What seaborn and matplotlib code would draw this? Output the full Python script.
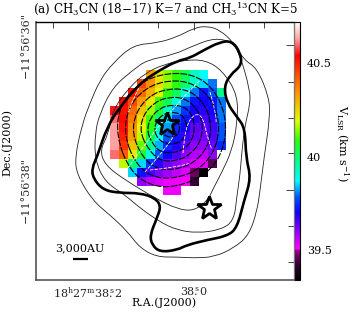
import matplotlib
import matplotlib.pyplot as plt
import numpy as np
import pandas as pd
import seaborn as sns
from matplotlib.colors import LinearSegmentedColormap
from matplotlib.patches import PathPatch
from matplotlib.path import Path

matplotlib.use("Agg")

# velocity map, km/s, one row per map row (top to bottom)
n = np.nan
vel_rows = [
    [n, n, n, n, 40.33, 40.22, 40.14, 40.08, 40.02, 39.93, 39.88, n, n],
    [n, n, n, 40.45, 40.35, 40.24, 40.15, 40.08, 40.0, 39.92, 39.85, 39.8, n],
    [n, n, 40.52, 40.4, 40.3, 40.2, 40.08, 40.02, 39.9, 39.8, 39.72, 39.78, 39.98],
    [n, 40.53, 40.45, 40.33, 40.22, 40.1, 40.02, 39.9, 39.8, 39.72, 39.7, 39.72, 39.8],
    [40.55, 40.52, 40.4, 40.28, 40.15, 40.05, 39.93, 39.82, 39.75, 39.7, 39.68, 39.7, 39.8],
    [40.6, 40.53, 40.38, 40.24, 40.1, 39.98, 39.85, 39.77, 39.72, 39.68, 39.66, 39.68, 39.8],
    [40.63, 40.52, 40.35, 40.2, 40.08, 39.92, 39.82, 39.74, 39.7, 39.64, 39.64, 39.66, 39.78],
    [40.63, 40.5, 40.33, 40.17, 40.03, 39.88, 39.78, 39.72, 39.67, 39.63, 39.62, 39.65, 39.78],
    [40.63, 40.47, 40.28, 40.12, 39.97, 39.83, 39.74, 39.69, 39.64, 39.6, 39.6, 39.63, 39.74],
    [40.6, 40.42, 40.22, 40.05, 39.9, 39.78, 39.7, 39.65, 39.6, 39.57, 39.56, 39.6, n],
    [n, 40.17, 40.0, 39.85, 39.75, 39.68, 39.63, 39.6, 39.57, 39.54, 39.53, 39.45, n],
    [n, n, 39.85, 39.72, 39.66, 39.62, 39.59, 39.56, 39.53, 39.46, 39.35, n, n],
    [n, n, n, 39.6, 39.56, 39.54, 39.52, 39.52, 39.51, 39.42, n, n, n],
    [n, n, n, n, n, n, 39.52, 39.52, n, n, n, n, n],
]
grid_x0, grid_y0, cell = 110, 70, 8.9

# colour bar stops
cbar_vals = [39.34, 39.43, 39.498, 39.505, 39.6, 39.7, 39.78, 39.87, 40.0, 40.09, 40.19, 40.35, 40.5, 40.54, 40.63, 40.72]
cbar_cols = ["#000000", "#3a003a", "#a0008c", "#ff00ff", "#9000ff", "#1000ff", "#0050ff", "#00ffff",
             "#00ff70", "#30ff00", "#e0ff00", "#ff9000", "#ff2000", "#ff0000", "#ffa0a0", "#ffffff"]

# contours in map coordinates
outer = [(75,157),(82,125),(90,103),(100,80),(113,63),(133,45),(157,43),(177,37),(194,28),(207,26),(220,30),(234,43),
         (244,60),(257,68),(269,97),(270,117),(264,158),(260,191),(257,211),(249,235),(234,248),(214,257),(194,258),
         (177,257),(157,257),(140,248),(127,231),(110,215),(93,201),(77,175)]
thick = [(97,157),(107,127),(120,107),(140,83),(160,70),(177,61),(190,58),(204,50),(220,42),(232,41),(240,52),(242,65),
         (230,75),(224,87),(227,103),(237,117),(245,128),(246,158),(251,178),(244,201),(237,228),(227,236),(207,240),
         (187,245),(177,250),(160,252),(152,245),(150,235),(157,218),(161,206),(155,198),(140,193),(120,193),(103,190),
         (93,178),(92,168)]
level2 = [(95,133),(100,113),(113,87),(133,70),(147,60),(173,55),(195,45),(215,38),(232,42),(240,55),(250,90),(250,105),
          (245,125),(242,150),(240,175),(237,195),(234,221),(220,230),(197,233),(177,230),(160,222),(140,208),(125,195),
          (105,182),(95,160)]
level3 = [(108,135),(113,110),(127,90),(145,73),(165,64),(185,60),(205,60),(222,70),(238,95),(237,125),(232,150),
          (222,172),(212,191),(208,200),(194,211),(177,209),(155,198),(125,180),(105,165),(100,150)]
ring_a = [(116,135),(120,105),(137,85),(160,74),(190,73),(213,87),(226,115),(225,145),(212,170),(185,185),(155,188),(130,172)]
ring_b = [(124,135),(128,108),(143,90),(163,81),(188,81),(208,94),(219,117),(218,143),(205,165),(183,177),(156,179),(136,165)]
ring_c = [(132,133),(136,112),(149,96),(166,89),(186,89),(202,100),(211,120),(210,142),(198,160),(180,169),(158,170),(142,157)]
ring_d = [(140,132),(143,115),(155,102),(169,97),(184,98),(196,107),(203,123),(201,141),(191,154),(177,161),(160,161),(148,149)]
ring_e = [(147,131),(150,118),(160,108),(171,105),(183,106),(192,114),(195,127),(192,141),(183,150),(172,153),(160,152),(152,143)]
ring_f = [(154,130),(157,120),(164,114),(172,112),(181,114),(186,121),(187,130),(184,139),(176,144),(166,144),(158,139)]
ring_g = [(160,130),(164,121),(172,119),(179,122),(180,131),(175,137),(166,137)]
rings = [ring_a, ring_b, ring_c, ring_d, ring_e, ring_f, ring_g]

# velocity contours, white
white_1 = [(125,172),(150,137),(172,110),(192,88),(208,72)]
white_2 = [(145,172),(168,146),(180,125)]
white_3 = [(183,153),(185,127),(195,113),(203,117),(208,140),(215,157)]
white_4 = [(150,170),(180,167),(197,160)]
white_5 = [(143,80),(132,100),(125,125)]
white_6 = [(210,92),(217,115),(215,130)]
whites = [white_1, white_2, white_3, white_4, white_5, white_6]

star_x = [167, 209]
star_y = [124, 208]

y_major = [45, 190]
y_minor = [82, 118, 153, 226, 262]
y_labels = ["\u221211\u00b056'36\"", "\u221211\u00b056'38\""]
x_major = [88, 194]
x_minor = [53, 158, 229, 264]
x_labels = [r"18$^{\rm h}$27$^{\rm m}$38$\overset{\rm s}{.}$2", r"38$\overset{\rm s}{.}$0"]


def smooth_path(pts, closed=True):
    # midpoints on the curve, read points as quad control points
    pts = np.array(pts, dtype=float)
    if closed:
        mids = (pts + np.roll(pts, -1, axis=0)) / 2
        verts = [mids[-1]]
        codes = [Path.MOVETO]
        for p, m in zip(pts, mids):
            verts += [p, m]
            codes += [Path.CURVE3, Path.CURVE3]
    else:
        mids = (pts[:-1] + pts[1:]) / 2
        verts = [pts[0]]
        codes = [Path.MOVETO]
        for p, m in zip(pts[1:-1], mids[1:]):
            verts += [p, m]
            codes += [Path.CURVE3, Path.CURVE3]
    return Path(verts, codes)


sns.set_theme(style="white")
plt.rcParams["font.family"] = ["DejaVu Serif"]
plt.rcParams["mathtext.fontset"] = "dejavuserif"
W, H = 354, 316
FS = 8

fig = plt.figure(figsize=(W / 100, H / 100), dpi=100)
ax = fig.add_axes([36 / W, 1 - 280 / H, 258 / W, 258 / H], zorder=3)
cax = fig.add_axes([294 / W, 1 - 280 / H, 6 / W, 258 / H], zorder=2)
grid_h = cell * len(vel_rows)
ax_vel = fig.add_axes([grid_x0 / W, 1 - (grid_y0 + grid_h) / H, cell * 13 / W, grid_h / H], zorder=1)

norm_vals = (np.array(cbar_vals) - cbar_vals[0]) / (cbar_vals[-1] - cbar_vals[0])
cmap = LinearSegmentedColormap.from_list("vlsr", list(zip(norm_vals, cbar_cols)), N=512)

sns.heatmap(pd.DataFrame(vel_rows), ax=ax_vel, cmap=cmap, vmin=cbar_vals[0], vmax=cbar_vals[-1],
            cbar_ax=cax, xticklabels=False, yticklabels=False, linewidths=0)
ax_vel.axis("off")

cbar = ax_vel.collections[0].colorbar
cbar.set_ticks([39.5, 40, 40.5], labels=["39.5", "40", "40.5"])
cbar.ax.tick_params(axis="y", which="major", length=0, labelsize=FS, pad=5, colors="black")
cbar.ax.set_yticks(np.arange(39.4, 40.75, 0.1), minor=True)
cbar.ax.tick_params(axis="y", which="minor", length=2, width=0.6, direction="in", right=True, color="black")
cbar.outline.set_edgecolor("black")
cbar.outline.set_linewidth(0.8)

ax.set_xlim(36, 294)
ax.set_ylim(280, 22)
ax.patch.set_alpha(0)

ax.set_xticks(x_major, labels=x_labels)
ax.set_xticks(x_minor, minor=True)
ax.set_yticks(y_major, labels=y_labels, rotation=90, va="center")
ax.set_yticks(y_minor, minor=True)
ax.tick_params(which="major", direction="in", length=6, width=0.7, top=True, right=True, labelsize=FS, pad=4, color="#444444")
ax.tick_params(which="minor", direction="in", length=4, width=0.7, top=True, right=True, color="#444444")
for side in ["left", "bottom"]:
    ax.spines[side].set_color("#555555")
    ax.spines[side].set_linewidth(1.2)
ax.spines["top"].set_color("black")
ax.spines["top"].set_linewidth(1.0)
ax.spines["right"].set_color("#777777")
ax.spines["right"].set_linewidth(0.8)

ax.add_patch(PathPatch(smooth_path(outer), fc="none", ec="#222222", lw=0.6))
ax.add_patch(PathPatch(smooth_path(level2), fc="none", ec="#222222", lw=0.6))
ax.add_patch(PathPatch(smooth_path(level3), fc="none", ec="#222222", lw=0.6))
for ring in rings:
    ax.add_patch(PathPatch(smooth_path(ring), fc="none", ec="black", lw=0.8, ls=(0, (6, 1.2))))
for w in whites:
    ax.add_patch(PathPatch(smooth_path(w, closed=False), fc="none", ec="white", lw=0.6, ls=(0, (4, 1.5))))
ax.add_patch(PathPatch(smooth_path(thick), fc="none", ec="black", lw=1.9))

ax.plot(star_x, star_y, ls="none", marker="*", ms=18, mfc="none", mec="black", mew=2.0)

ax.plot([73, 88], [259, 259], color="black", lw=1.6, solid_capstyle="butt")
ax.text(80, 248, "3,000AU", ha="center", va="center", fontsize=FS, color="black")

fig.text(165 / W, 1 - 9 / H, r"(a) CH$_3$CN (18$-$17) K=7 and CH$_3$$^{13}$CN K=5", ha="center", va="center", fontsize=FS + 0.6, color="black")
fig.text(164 / W, 1 - 303 / H, "R.A.(J2000)", ha="center", va="center", fontsize=FS, color="black")
fig.text(7 / W, 1 - 143 / H, "Dec.(J2000)", ha="center", va="center", rotation=90, fontsize=FS, color="black")
fig.text(342 / W, 1 - 143 / H, r"V$_{\rm LSR}$ (km s$^{-1}$)", ha="center", va="center", rotation=-90, fontsize=FS, color="black")

plt.savefig("out.png", dpi=100)
plt.close()
